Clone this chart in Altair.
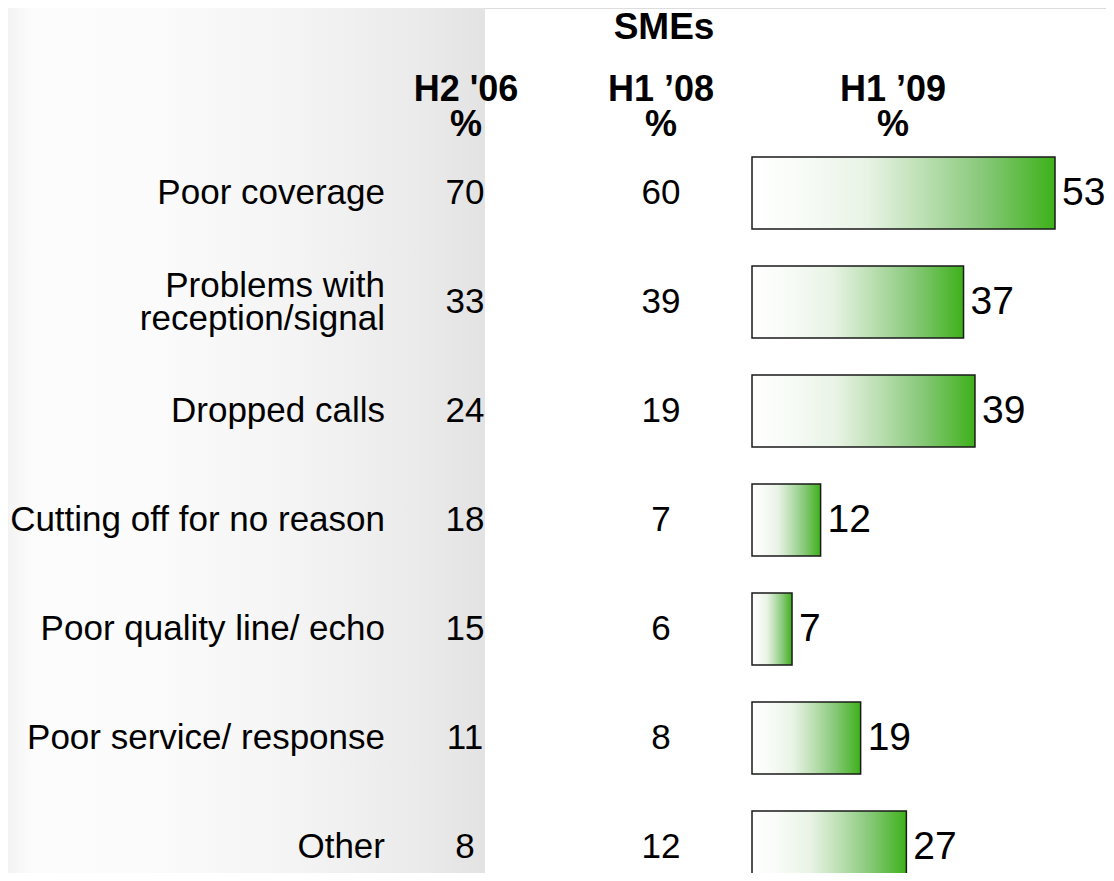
import altair as alt
import pandas as pd

categories = [
    "Poor coverage",
    "Problems with\nreception/signal",
    "Dropped calls",
    "Cutting off for no reason",
    "Poor quality line/ echo",
    "Poor service/ response",
    "Other",
]
h2_06 = [70, 33, 24, 18, 15, 11, 8]
h1_08 = [60, 39, 19, 7, 6, 8, 12]
h1_09 = [53, 37, 39, 12, 7, 19, 27]

group_title = "SMEs"
col_titles = ["H2 '06", "H1 \u201908", "H1 \u201909"]
unit = "%"

df = pd.DataFrame({"cat": categories, "h2_06": h2_06, "h1_08": h1_08, "h1_09": h1_09})
one = pd.DataFrame({"k": [0]})

W, H = 1098, 865
FONT = "Liberation Sans"
LINE_H = 33
STEP = 109
BAND = STEP * (1 - 0.34)

x_scale = alt.Scale(domain=[-130.14, 61.92], nice=False, zero=False)
y_scale = alt.Scale(domain=categories, range=[130.5, 893.5], paddingInner=0.34, paddingOuter=0.17)
y_enc = alt.Y("cat:N", scale=y_scale, axis=None, sort=categories)

band_grad = alt.LinearGradient(
    gradient="linear", x1=0, x2=1, y1=0, y2=0,
    stops=[
        alt.GradientStop(color="#f3f3f3", offset=0),
        alt.GradientStop(color="#fcfcfc", offset=0.05),
        alt.GradientStop(color="#fbfbfb", offset=0.3),
        alt.GradientStop(color="#f4f4f4", offset=0.6),
        alt.GradientStop(color="#ebebeb", offset=0.85),
        alt.GradientStop(color="#e3e3e3", offset=1),
    ],
)
background = alt.Chart(one).mark_rect(fill=band_grad, strokeWidth=0).encode(
    x=alt.value(0), x2=alt.value(477), y=alt.value(0), y2=alt.value(H)
)

bar_grad = alt.LinearGradient(
    gradient="linear", x1=0, x2=1, y1=0, y2=0,
    stops=[
        alt.GradientStop(color="#ffffff", offset=0),
        alt.GradientStop(color="#f7fbf6", offset=0.18),
        alt.GradientStop(color="#e8f3e5", offset=0.38),
        alt.GradientStop(color="#bde0b4", offset=0.56),
        alt.GradientStop(color="#88c97a", offset=0.76),
        alt.GradientStop(color="#3eb11a", offset=1),
    ],
)

bars = alt.Chart(df).mark_bar(
    fill=bar_grad, stroke="#1a1a1a", strokeWidth=1.5, clip=True
).encode(
    x=alt.X("zero:Q", scale=x_scale, axis=None),
    x2="h1_09:Q",
    y=y_enc,
).transform_calculate(zero="0")

bar_labels = alt.Chart(df).mark_text(
    align="left", baseline="middle", dx=7, fontSize=39, font=FONT, color="black"
).encode(x=alt.X("h1_09:Q", scale=x_scale, axis=None), y=y_enc, text="h1_09:Q")

cat_labels = alt.Chart(df).transform_calculate(
    off=f"{BAND / 2} - (split(datum.cat, '\\n').length - 1) * {LINE_H / 2}"
).mark_text(
    align="right", baseline="middle", fontSize=35, font=FONT, color="black",
    lineBreak="\n", lineHeight=LINE_H
).encode(
    x=alt.value(377), y=y_enc, yOffset=alt.YOffset("off:Q", scale=None), text="cat:N"
)

col1 = alt.Chart(df).mark_text(
    align="center", baseline="middle", fontSize=35, font=FONT, color="black"
).encode(x=alt.value(457), y=y_enc, text="h2_06:Q")

col2 = alt.Chart(df).mark_text(
    align="center", baseline="middle", fontSize=35, font=FONT, color="black"
).encode(x=alt.value(653), y=y_enc, text="h1_08:Q")


def header(txt, xpos, ypos):
    return alt.Chart(one).mark_text(
        align="center", baseline="middle", fontSize=36, fontWeight="bold", font=FONT,
        color="black", text=txt
    ).encode(x=alt.value(xpos), y=alt.value(ypos))


headers = []
for t, xp in zip(col_titles, [458, 653, 885]):
    headers.append(header(t, xp, 82))
    headers.append(header(unit, xp, 116.5))

smes = alt.Chart(one).mark_text(
    align="center", baseline="middle", fontSize=37, fontWeight="bold", font=FONT,
    color="black", text=group_title
).encode(x=alt.value(656), y=alt.value(20))

chart = alt.layer(
    background, bars, bar_labels, cat_labels, col1, col2, *headers, smes
).properties(
    width=W, height=H, padding=0,
    autosize=alt.AutoSizeParams(type="none"),
).configure_view(stroke=None).configure(background="white")

chart.save("out.html", embed_options={"renderer": "svg", "actions": False})
